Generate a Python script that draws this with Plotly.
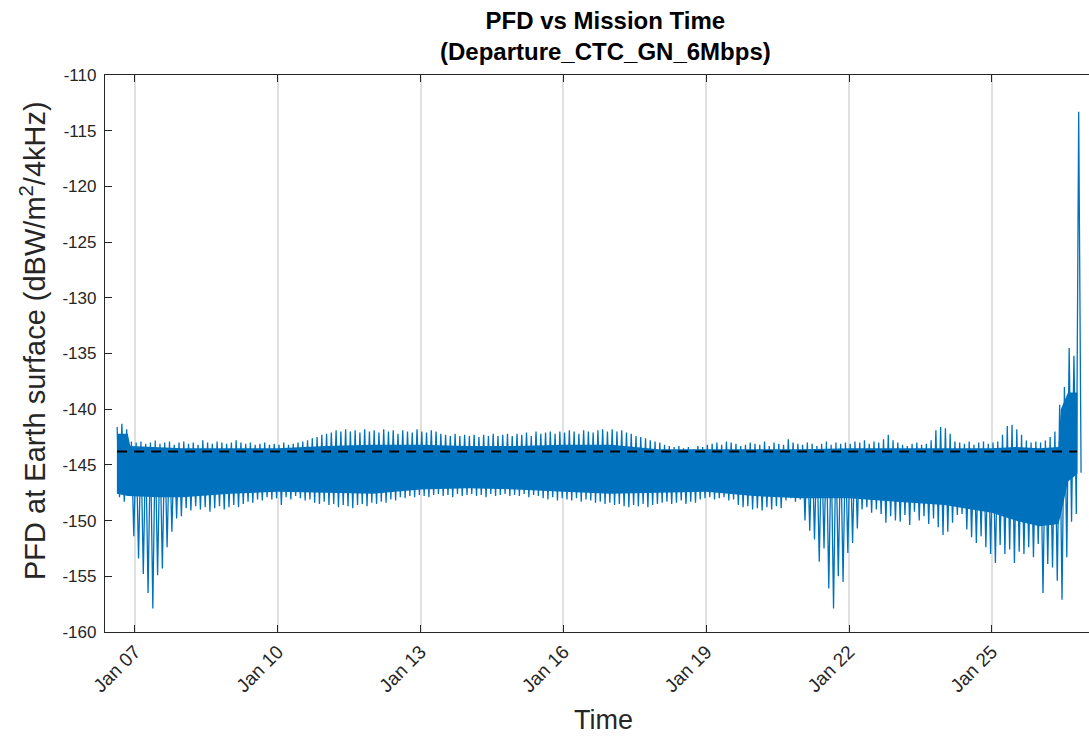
import pandas as pd
import plotly.graph_objects as go

# ---------------- data ----------------
title_lines = ["PFD vs Mission Time", "(Departure_CTC_GN_6Mbps)"]
x_label = "Time"
y_label = "PFD at Earth surface (dBW/m<sup>2</sup>/4kHz)"

tick_dates = ["2025-01-07", "2025-01-10", "2025-01-13", "2025-01-16",
              "2025-01-19", "2025-01-22", "2025-01-25"]
tick_labels = ["Jan 07", "Jan 10", "Jan 13", "Jan 16", "Jan 19", "Jan 22", "Jan 25"]
y_ticks = [-160, -155, -150, -145, -140, -135, -130, -125, -120, -115, -110]

threshold = -143.8
threshold_span = ["2025-01-06 15:00", "2025-01-26 19:00"]

# each block: first sample time (day of January) and samples every 0.1 day
block_start = [6.625, 7.025, 8.025, 9.025, 10.025, 11.025, 12.025, 13.025, 14.025, 15.025,
               16.025, 17.025, 18.025, 19.025, 20.025, 21.025, 22.025, 23.025, 24.025,
               25.025, 26.025]
sample_step_days = 0.1

# upper extremes of each oscillation (dBW/m^2/4kHz)
hi_d06 = [-141.6, -141.3, -141.8, -142.9]
hi_d07 = [-143.0, -142.9, -143.1, -143.0, -142.8, -143.1, -143.0, -142.9, -143.2, -143.0]
hi_d08 = [-142.9, -143.1, -143.0, -143.2, -142.8, -143.0, -143.1, -142.9, -143.0, -143.1]
hi_d09 = [-143.0, -142.8, -143.0, -143.1, -143.0, -143.2, -143.1, -143.0, -143.2, -143.1]
hi_d10 = [-143.2, -143.0, -143.2, -143.1, -143.0, -142.9, -142.8, -142.6, -142.5, -142.3]
hi_d11 = [-142.2, -142.1, -141.9, -142.0, -141.8, -142.0, -141.9, -142.1, -141.8, -142.0]
hi_d12 = [-141.9, -142.1, -141.8, -142.0, -141.9, -142.2, -141.9, -142.0, -142.1, -141.8]
hi_d13 = [-142.0, -142.1, -141.9, -142.0, -142.2, -142.3, -142.4, -142.2, -142.4, -142.3]
hi_d14 = [-142.4, -142.3, -142.5, -142.3, -142.4, -142.2, -142.4, -142.3, -142.2, -142.4]
hi_d15 = [-142.2, -142.3, -142.1, -142.4, -142.0, -142.2, -142.1, -142.0, -142.2, -142.0]
hi_d16 = [-142.1, -141.9, -142.0, -142.2, -141.9, -142.0, -142.1, -141.9, -141.8, -142.0]
hi_d17 = [-141.8, -142.0, -141.9, -142.1, -142.2, -142.4, -142.5, -142.6, -142.8, -142.9]
hi_d18 = [-143.0, -143.2, -143.3, -143.4, -143.3, -143.5, -143.4, -143.6, -143.3, -143.4]
hi_d19 = [-143.2, -143.1, -143.0, -143.2, -142.9, -143.0, -143.1, -143.3, -143.2, -143.0]
hi_d20 = [-143.1, -143.2, -142.9, -143.3, -143.0, -143.1, -143.2, -142.7, -143.0, -143.1]
hi_d21 = [-143.2, -143.0, -143.1, -143.3, -143.1, -142.9, -143.2, -143.0, -143.1, -143.0]
hi_d22 = [-143.1, -142.9, -143.0, -142.8, -143.1, -142.9, -143.0, -142.7, -142.3, -142.8]
hi_d23 = [-143.0, -143.2, -143.3, -143.1, -143.0, -143.2, -143.1, -142.8, -141.9, -141.6]
hi_d24 = [-141.7, -142.2, -142.9, -143.0, -143.1, -142.9, -143.2, -143.0, -142.9, -143.1]
hi_d25 = [-143.0, -142.9, -142.3, -141.5, -141.4, -141.8, -142.3, -142.8, -143.0, -142.9]
hi_d26 = [-143.0, -142.8, -142.5, -142.0, -139.6, -138.0, -134.5, -135.2, -113.3]

# lower extremes of each oscillation
lo_d06 = [-147.9, -148.3, -147.8, -151.4]
lo_d07 = [-153.4, -154.8, -156.5, -157.9, -154.9, -154.3, -152.4, -151.0, -149.8, -149.6]
lo_d08 = [-148.9, -149.1, -148.7, -149.0, -148.8, -149.2, -148.9, -148.7, -149.0, -148.8]
lo_d09 = [-148.6, -148.8, -148.5, -148.3, -148.4, -148.1, -148.2, -147.9, -148.1, -148.0]
lo_d10 = [-148.6, -147.9, -148.1, -147.8, -148.0, -148.2, -148.1, -148.4, -148.5, -148.3]
lo_d11 = [-148.6, -148.5, -148.8, -148.6, -148.7, -148.9, -148.6, -148.5, -148.7, -148.4]
lo_d12 = [-148.5, -148.3, -148.4, -148.1, -148.2, -147.9, -148.0, -147.8, -147.9, -147.7]
lo_d13 = [-147.8, -147.9, -147.7, -147.6, -147.8, -147.7, -147.9, -147.6, -147.8, -147.7]
lo_d14 = [-147.6, -147.8, -147.7, -147.9, -147.6, -147.8, -147.7, -147.6, -147.8, -147.7]
lo_d15 = [-147.8, -147.6, -147.9, -147.7, -147.8, -148.0, -148.1, -147.9, -148.2, -148.0]
lo_d16 = [-148.1, -148.2, -148.0, -148.3, -148.1, -148.2, -148.4, -148.3, -148.5, -148.4]
lo_d17 = [-148.6, -148.5, -148.7, -148.8, -148.6, -148.7, -148.5, -148.8, -148.6, -148.5]
lo_d18 = [-148.4, -148.3, -148.5, -148.4, -148.2, -148.5, -148.3, -148.4, -148.1, -148.0]
lo_d19 = [-147.9, -148.1, -148.0, -147.9, -148.2, -148.1, -148.6, -148.8, -148.7, -149.0]
lo_d20 = [-148.9, -149.1, -148.8, -149.0, -148.7, -148.9, -148.2, -148.0, -148.3, -148.1]
lo_d21 = [-150.0, -150.9, -151.7, -153.7, -152.5, -156.1, -157.9, -155.0, -155.5, -152.9]
lo_d22 = [-152.0, -150.7, -149.0, -148.8, -149.3, -149.0, -149.4, -150.2, -149.6, -150.0]
lo_d23 = [-150.1, -149.5, -150.4, -149.2, -150.0, -149.6, -150.3, -149.8, -150.6, -151.3]
lo_d24 = [-151.0, -150.2, -149.5, -149.4, -150.8, -151.5, -152.0, -151.4, -152.4, -153.0]
lo_d25 = [-153.8, -152.2, -153.0, -152.6, -153.8, -152.8, -153.0, -152.4, -153.3, -152.1]
lo_d26 = [-156.5, -153.9, -154.2, -155.4, -157.1, -153.3, -150.1, -149.4, -145.7]

# dense core of the trace (where the oscillations overlap completely)
core_days = [6.62, 6.85, 6.9, 7.5, 8, 9, 10, 11, 12, 13, 14, 15, 16, 17, 18, 19,
             20, 21, 22, 23, 24, 25, 25.5, 26, 26.4, 26.45, 26.6, 26.8]
core_hi = [-142.2, -142.2, -143.3, -143.4, -143.5, -143.5, -143.5, -143.3, -143.2, -143.2,
           -143.3, -143.3, -143.2, -143.2, -143.6, -143.6, -143.6, -143.6, -143.5, -143.5,
           -143.5, -143.5, -143.4, -143.5, -143.4, -140.0, -138.5, -138.5]
core_lo = [-147.6, -147.8, -147.8, -147.9, -147.9, -147.6, -147.4, -147.5, -147.6, -147.2,
           -147.1, -147.2, -147.4, -147.6, -147.5, -147.4, -147.8, -148.0, -148.0, -148.3,
           -148.6, -149.3, -150.0, -150.5, -150.3, -149.5, -146.5, -145.8]

# ---------------- assemble ----------------
hi_blocks = [hi_d06, hi_d07, hi_d08, hi_d09, hi_d10, hi_d11, hi_d12, hi_d13, hi_d14, hi_d15,
             hi_d16, hi_d17, hi_d18, hi_d19, hi_d20, hi_d21, hi_d22, hi_d23, hi_d24, hi_d25,
             hi_d26]
lo_blocks = [lo_d06, lo_d07, lo_d08, lo_d09, lo_d10, lo_d11, lo_d12, lo_d13, lo_d14, lo_d15,
             lo_d16, lo_d17, lo_d18, lo_d19, lo_d20, lo_d21, lo_d22, lo_d23, lo_d24, lo_d25,
             lo_d26]

base = pd.Timestamp("2025-01-01")


def day_to_ts(d):
    return base + pd.to_timedelta(d - 1, unit="D")


pts = []
for d0, hb, lb in zip(block_start, hi_blocks, lo_blocks):
    for k, v in enumerate(hb):
        pts.append((d0 + k * sample_step_days, v))
    for k, v in enumerate(lb):
        pts.append((d0 + k * sample_step_days + sample_step_days / 2, v))
pts.sort(key=lambda p: p[0])
xs = [day_to_ts(p[0]) for p in pts]
ys = [p[1] for p in pts]

core_t = [day_to_ts(d) for d in core_days]

BLUE = "#0072BD"
AX = "#262626"
FONT = "Liberation Sans, Arial, Helvetica, sans-serif"

fig = go.Figure()
fig.add_trace(go.Scatter(
    x=core_t + core_t[::-1], y=core_hi + core_lo[::-1],
    fill="toself", fillcolor=BLUE, mode="lines", line=dict(width=0),
    hoverinfo="skip", showlegend=False))
fig.add_trace(go.Scatter(
    x=xs, y=ys, mode="lines", line=dict(color=BLUE, width=1.3),
    showlegend=False))
fig.add_trace(go.Scatter(
    x=threshold_span, y=[threshold, threshold], mode="lines",
    line=dict(color="black", width=2, dash="10px,7px"), showlegend=False))

W, H = 1089, 740
ml, mr, mt, mb = 105, 0, 75, 108
pw, ph = W - ml - mr, H - mt - mb


def px_x(px):
    return (px - ml) / pw


def px_y(py):
    return (H - mb - py) / ph


fig.update_layout(
    width=W, height=H,
    margin=dict(l=ml, r=mr, t=mt, b=mb, pad=0),
    paper_bgcolor="white", plot_bgcolor="white",
    font=dict(family=FONT, size=17, color=AX),
    showlegend=False,
    xaxis=dict(
        type="date", automargin=False,
        range=["2025-01-06 08:53", "2025-01-27 01:00"],
        tickvals=tick_dates, ticktext=tick_labels, tickangle=-45,
        showgrid=True, gridcolor="#e0e0e0", gridwidth=1.5,
        ticks="inside", ticklen=7, tickwidth=1.3, tickcolor=AX,
        showline=True, linecolor=AX, linewidth=1.3, mirror="allticks",
        zeroline=False, tickfont=dict(family=FONT, size=19, color=AX),
    ),
    yaxis=dict(
        automargin=False,
        range=[-160, -110], tickvals=y_ticks,
        ticktext=[str(v) for v in y_ticks],
        showgrid=False, ticks="inside", ticklen=7, tickwidth=1.3, tickcolor=AX,
        showline=True, linecolor=AX, linewidth=1.3, mirror=False,
        zeroline=False, tickfont=dict(family=FONT, size=17, color=AX),
        ticklabelstandoff=4,
    ),
    annotations=[
        dict(text="<b>" + title_lines[0] + "</b><br><b>" + title_lines[1] + "</b>",
             xref="paper", yref="paper", x=px_x(605), y=px_y(36),
             xanchor="center", yanchor="middle", showarrow=False,
             font=dict(family=FONT, size=24, color="black")),
        dict(text=x_label, xref="paper", yref="paper", x=px_x(603), y=px_y(720),
             xanchor="center", yanchor="middle", showarrow=False,
             font=dict(family=FONT, size=27, color=AX)),
        dict(text=y_label, xref="paper", yref="paper", x=px_x(33), y=px_y(341),
             xanchor="center", yanchor="middle", showarrow=False, textangle=-90,
             font=dict(family=FONT, size=29, color=AX)),
    ],
)

fig.write_html("out.html", config={"displayModeBar": False},
               post_script="document.body.style.margin='0';")
